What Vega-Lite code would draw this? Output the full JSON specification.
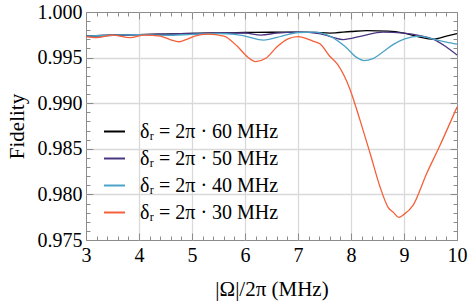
{
  "$schema": "https://vega.github.io/schema/vega-lite/v6.json",
  "width": 371,
  "height": 228,
  "autosize": {"type": "none"},
  "padding": {"left": 86, "top": 12, "right": 12, "bottom": 63},
  "background": "white",
  "config": {
    "view": {"stroke": "#8c8c8c", "strokeWidth": 1},
    "font": "Liberation Serif",
    "axis": {
      "labelColor": "black",
      "titleColor": "black",
      "titleFontWeight": "normal",
      "domain": false,
      "tickColor": "#8c8c8c",
      "tickWidth": 1,
      "gridColor": "#d9d9d9",
      "gridWidth": 1.3
    }
  },
  "data": {
    "values": [
      {"x": 3, "F": 0.99736, "s": "60"}, {"x": 3.5, "F": 0.99745, "s": "60"}, {"x": 4, "F": 0.99753, "s": "60"}, {"x": 4.5, "F": 0.99758, "s": "60"}, {"x": 5, "F": 0.99764, "s": "60"}, {"x": 5.5, "F": 0.9977, "s": "60"}, {"x": 6, "F": 0.99775, "s": "60"}, {"x": 6.5, "F": 0.99778, "s": "60"}, {"x": 7, "F": 0.9978, "s": "60"}, {"x": 7.3, "F": 0.99777, "s": "60"}, {"x": 7.6, "F": 0.99769, "s": "60"}, {"x": 8, "F": 0.99786, "s": "60"}, {"x": 8.3, "F": 0.99795, "s": "60"}, {"x": 8.7, "F": 0.99791, "s": "60"}, {"x": 9, "F": 0.99769, "s": "60"}, {"x": 9.3, "F": 0.99725, "s": "60"}, {"x": 9.55, "F": 0.99703, "s": "60"}, {"x": 9.8, "F": 0.99736, "s": "60"}, {"x": 10, "F": 0.99764, "s": "60"},
      {"x": 3, "F": 0.99736, "s": "50"}, {"x": 3.5, "F": 0.99745, "s": "50"}, {"x": 4, "F": 0.99753, "s": "50"}, {"x": 4.5, "F": 0.99758, "s": "50"}, {"x": 5, "F": 0.99764, "s": "50"}, {"x": 5.5, "F": 0.9977, "s": "50"}, {"x": 6, "F": 0.9977, "s": "50"}, {"x": 6.3, "F": 0.99747, "s": "50"}, {"x": 6.6, "F": 0.99769, "s": "50"}, {"x": 7, "F": 0.9978, "s": "50"}, {"x": 7.4, "F": 0.99764, "s": "50"}, {"x": 7.65, "F": 0.99725, "s": "50"}, {"x": 7.85, "F": 0.99698, "s": "50"}, {"x": 8.2, "F": 0.99736, "s": "50"}, {"x": 8.6, "F": 0.9978, "s": "50"}, {"x": 9, "F": 0.99769, "s": "50"}, {"x": 9.3, "F": 0.99742, "s": "50"}, {"x": 9.55, "F": 0.99703, "s": "50"}, {"x": 9.8, "F": 0.99616, "s": "50"}, {"x": 10, "F": 0.99528, "s": "50"},
      {"x": 3, "F": 0.99736, "s": "40"}, {"x": 3.5, "F": 0.99745, "s": "40"}, {"x": 4, "F": 0.99753, "s": "40"}, {"x": 4.5, "F": 0.99745, "s": "40"}, {"x": 5, "F": 0.99755, "s": "40"}, {"x": 5.5, "F": 0.99764, "s": "40"}, {"x": 5.8, "F": 0.99755, "s": "40"}, {"x": 6, "F": 0.99736, "s": "40"}, {"x": 6.35, "F": 0.99692, "s": "40"}, {"x": 6.7, "F": 0.99736, "s": "40"}, {"x": 7, "F": 0.99775, "s": "40"}, {"x": 7.3, "F": 0.9978, "s": "40"}, {"x": 7.6, "F": 0.99736, "s": "40"}, {"x": 7.9, "F": 0.99616, "s": "40"}, {"x": 8.1, "F": 0.99505, "s": "40"}, {"x": 8.25, "F": 0.99467, "s": "40"}, {"x": 8.4, "F": 0.99485, "s": "40"}, {"x": 8.6, "F": 0.99561, "s": "40"}, {"x": 8.8, "F": 0.99645, "s": "40"}, {"x": 9, "F": 0.99703, "s": "40"}, {"x": 9.3, "F": 0.99736, "s": "40"}, {"x": 9.55, "F": 0.99703, "s": "40"}, {"x": 9.8, "F": 0.9967, "s": "40"}, {"x": 10, "F": 0.99648, "s": "40"},
      {"x": 3, "F": 0.99731, "s": "30"}, {"x": 3.2, "F": 0.9972, "s": "30"}, {"x": 3.5, "F": 0.99747, "s": "30"}, {"x": 3.83, "F": 0.99718, "s": "30"}, {"x": 4.1, "F": 0.99747, "s": "30"}, {"x": 4.4, "F": 0.99736, "s": "30"}, {"x": 4.6, "F": 0.99695, "s": "30"}, {"x": 4.75, "F": 0.99674, "s": "30"}, {"x": 4.9, "F": 0.997, "s": "30"}, {"x": 5.05, "F": 0.99736, "s": "30"}, {"x": 5.3, "F": 0.99758, "s": "30"}, {"x": 5.6, "F": 0.99736, "s": "30"}, {"x": 5.85, "F": 0.99627, "s": "30"}, {"x": 6.05, "F": 0.99506, "s": "30"}, {"x": 6.2, "F": 0.99456, "s": "30"}, {"x": 6.4, "F": 0.99495, "s": "30"}, {"x": 6.6, "F": 0.99616, "s": "30"}, {"x": 6.8, "F": 0.99703, "s": "30"}, {"x": 7, "F": 0.99731, "s": "30"}, {"x": 7.28, "F": 0.99681, "s": "30"}, {"x": 7.42, "F": 0.99648, "s": "30"}, {"x": 7.6, "F": 0.99515, "s": "30"}, {"x": 7.74, "F": 0.9943, "s": "30"}, {"x": 7.98, "F": 0.99154, "s": "30"}, {"x": 8.17, "F": 0.98814, "s": "30"}, {"x": 8.36, "F": 0.98451, "s": "30"}, {"x": 8.55, "F": 0.98078, "s": "30"}, {"x": 8.7, "F": 0.97858, "s": "30"}, {"x": 8.8, "F": 0.97803, "s": "30"}, {"x": 8.9, "F": 0.97748, "s": "30"}, {"x": 9, "F": 0.97781, "s": "30"}, {"x": 9.17, "F": 0.9788, "s": "30"}, {"x": 9.43, "F": 0.98232, "s": "30"}, {"x": 9.68, "F": 0.98539, "s": "30"}, {"x": 10, "F": 0.98957, "s": "30"}
    ]
  },
  "layer": [
    {
      "mark": {"type": "line", "interpolate": "monotone", "strokeWidth": 1.3},
      "encoding": {
        "x": {
          "field": "x", "type": "quantitative",
          "scale": {"domain": [3, 10], "nice": false, "zero": false},
          "axis": {
            "orient": "bottom",
            "values": [3, 3.2, 3.4, 3.6, 3.8, 4, 4.2, 4.4, 4.6, 4.8, 5, 5.2, 5.4, 5.6, 5.8, 6, 6.2, 6.4, 6.6, 6.8, 7, 7.2, 7.4, 7.6, 7.8, 8, 8.2, 8.4, 8.6, 8.8, 9, 9.2, 9.4, 9.6, 9.8, 10],
            "labelExpr": "abs(datum.value-round(datum.value))<1e-6 ? format(datum.value,'d') : ''",
            "labelFont": "Times New Roman, Liberation Serif, serif",
            "labelFontSize": 20,
            "labelPadding": 12,
            "labelFlush": false,
            "labelOverlap": false,
            "tickSize": {"condition": {"test": "abs(datum.value-round(datum.value))<1e-6", "value": -7}, "value": -4},
            "grid": true,
            "gridOpacity": {"condition": {"test": "abs(datum.value-round(datum.value))<1e-6 && datum.value>3.01 && datum.value<9.99", "value": 1}, "value": 0},
            "title": "|Ω|/2π (MHz)",
            "titleFont": "Liberation Serif",
            "titleFontSize": 21,
            "titlePadding": 10
          }
        },
        "y": {
          "field": "F", "type": "quantitative",
          "scale": {"domain": [0.975, 1.0], "nice": false, "zero": false},
          "axis": {
            "orient": "left",
            "values": [0.975, 0.976, 0.977, 0.978, 0.979, 0.98, 0.981, 0.982, 0.983, 0.984, 0.985, 0.986, 0.987, 0.988, 0.989, 0.99, 0.991, 0.992, 0.993, 0.994, 0.995, 0.996, 0.997, 0.998, 0.999, 1.0],
            "labelExpr": "abs(datum.value*200-round(datum.value*200))<1e-6 ? format(datum.value,'.3f') : ''",
            "labelFont": "Times New Roman, Liberation Serif, serif",
            "labelFontSize": 20,
            "labelPadding": 11,
            "labelFlush": false,
            "labelOverlap": false,
            "tickSize": {"condition": {"test": "abs(datum.value*200-round(datum.value*200))<1e-6", "value": -7}, "value": -4},
            "grid": true,
            "gridOpacity": {"condition": {"test": "abs(datum.value*200-round(datum.value*200))<1e-6 && datum.value>0.9751 && datum.value<0.9999", "value": 1}, "value": 0},
            "title": "Fidelity",
            "titleFont": "Liberation Serif",
            "titleFontSize": 21,
            "titlePadding": 10
          }
        },
        "color": {
          "field": "s", "type": "nominal",
          "scale": {"domain": ["60", "50", "40", "30"], "range": ["#000000", "#4a3580", "#4ba3c8", "#f5603a"]},
          "legend": {
            "orient": "none",
            "legendX": 17,
            "legendY": 108,
            "title": null,
            "padding": 0,
            "symbolType": "stroke",
            "symbolSize": 441,
            "symbolStrokeWidth": 2,
            "labelFont": "Times New Roman, Liberation Serif, serif",
            "labelFontSize": 20,
            "labelOffset": 14,
            "rowPadding": 5,
            "labelExpr": "'δᵣ = 2π · ' + datum.label + ' MHz'"
          }
        }
      }
    },
    {
      "mark": {"type": "line", "opacity": 0},
      "encoding": {
        "x": {
          "field": "x", "type": "quantitative",
          "axis": {
            "orient": "top",
            "values": [3, 3.2, 3.4, 3.6, 3.8, 4, 4.2, 4.4, 4.6, 4.8, 5, 5.2, 5.4, 5.6, 5.8, 6, 6.2, 6.4, 6.6, 6.8, 7, 7.2, 7.4, 7.6, 7.8, 8, 8.2, 8.4, 8.6, 8.8, 9, 9.2, 9.4, 9.6, 9.8, 10],
            "labels": false,
            "grid": false,
            "title": null,
            "tickSize": {"condition": {"test": "abs(datum.value-round(datum.value))<1e-6", "value": -7}, "value": -4}
          }
        },
        "y": {
          "field": "F", "type": "quantitative",
          "axis": {
            "orient": "right",
            "values": [0.975, 0.976, 0.977, 0.978, 0.979, 0.98, 0.981, 0.982, 0.983, 0.984, 0.985, 0.986, 0.987, 0.988, 0.989, 0.99, 0.991, 0.992, 0.993, 0.994, 0.995, 0.996, 0.997, 0.998, 0.999, 1.0],
            "labels": false,
            "grid": false,
            "title": null,
            "tickSize": {"condition": {"test": "abs(datum.value*200-round(datum.value*200))<1e-6", "value": -7}, "value": -4}
          }
        }
      }
    }
  ],
  "resolve": {"axis": {"x": "independent", "y": "independent"}}
}
